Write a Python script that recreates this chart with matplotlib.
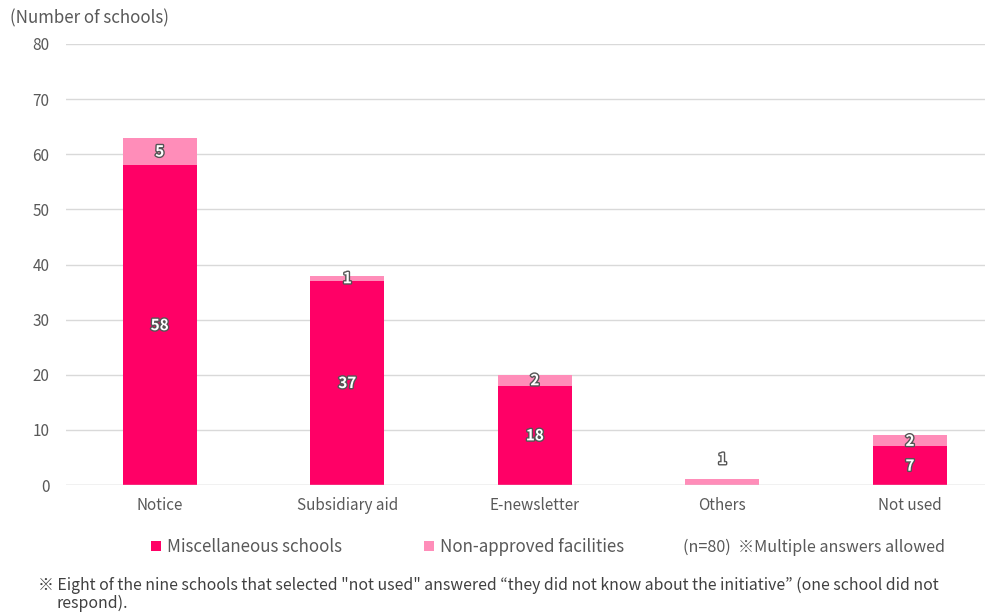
import matplotlib
matplotlib.use("Agg")
import matplotlib.pyplot as plt
import matplotlib.patheffects as pe
import numpy as np

plt.rcParams['font.family'] = ['Noto Sans CJK JP', 'DejaVu Sans']

categories = ["Notice", "Subsidiary aid", "E-newsletter", "Others", "Not used"]
misc_schools = [58, 37, 18, 0, 7]
non_approved = [5, 1, 2, 1, 2]
series_names = ["Miscellaneous schools", "Non-approved facilities"]
yticks = [0, 10, 20, 30, 40, 50, 60, 70, 80]

dark = "#FF0066"
light = "#FF8DB9"
grey = "#595959"


def main():
    fig = plt.figure(figsize=(9.98, 6.13), dpi=100)
    ax = fig.add_axes([66 / 998, 1 - 485 / 613, 919 / 998, 441 / 613])

    x = np.arange(len(categories))
    w = 0.395
    b1 = ax.bar(x, misc_schools, w, color=dark, zorder=3, label=series_names[0])
    b2 = ax.bar(x, non_approved, w, bottom=misc_schools, color=light, zorder=3,
                label=series_names[1])

    outline = [pe.withStroke(linewidth=2.0, foreground="#555555")]
    for i in range(len(categories)):
        if misc_schools[i] > 0:
            ax.text(x[i], misc_schools[i] / 2, str(misc_schools[i]), ha="center", va="center",
                    color="white", fontsize=11, fontweight="bold", path_effects=outline, zorder=5)
        top = misc_schools[i] + non_approved[i]
        if misc_schools[i] > 0:
            yl = misc_schools[i] + non_approved[i] / 2
        else:
            yl = top + 3.7
        ax.text(x[i], yl, str(non_approved[i]), ha="center", va="center",
                color="white", fontsize=11, fontweight="bold", path_effects=outline, zorder=5)

    ax.set_xlim(-0.5, 4.4)
    ax.set_ylim(0, 80)
    ax.set_yticks(yticks)
    ax.set_xticks(x)
    ax.set_xticklabels(categories)
    ax.tick_params(axis="both", length=0, labelsize=11, colors=grey)
    ax.tick_params(axis="x", pad=9)
    ax.tick_params(axis="y", pad=12)
    ax.grid(axis="y", color="#d9d9d9", linewidth=1, zorder=0)
    for s in ax.spines.values():
        s.set_visible(False)
    ax.axhline(0, color="#d9d9d9", linewidth=1, zorder=4)

    fig.text(10 / 998, 1 - 18 / 613, "(Number of schools)", fontsize=12.2, color=grey,
             ha="left", va="center")

    leg = fig.legend(handles=[b1, b2], labels=series_names, loc="center left",
                     bbox_to_anchor=(144 / 998, 1 - 547 / 613), ncol=2, frameon=False,
                     fontsize=12.2, handlelength=0.6, handleheight=0.6, handletextpad=0.35,
                     columnspacing=4.85, borderaxespad=0)
    for t in leg.get_texts():
        t.set_color(grey)

    fig.text(683 / 998, 1 - 547 / 613, "(n=80)  ※Multiple answers allowed", fontsize=11.6,
             color=grey, ha="left", va="center")

    fig.text(38 / 998, 1 - 585 / 613,
             "※ Eight of the nine schools that selected \"not used\" answered \u201cthey did not know about the initiative\u201d (one school did not",
             fontsize=11.4, color="#404040", ha="left", va="center")
    fig.text(57 / 998, 1 - 603 / 613, "respond).", fontsize=11.4, color="#404040",
             ha="left", va="center")

    fig.savefig("out.png", dpi=100)


if __name__ == "__main__":
    main()
